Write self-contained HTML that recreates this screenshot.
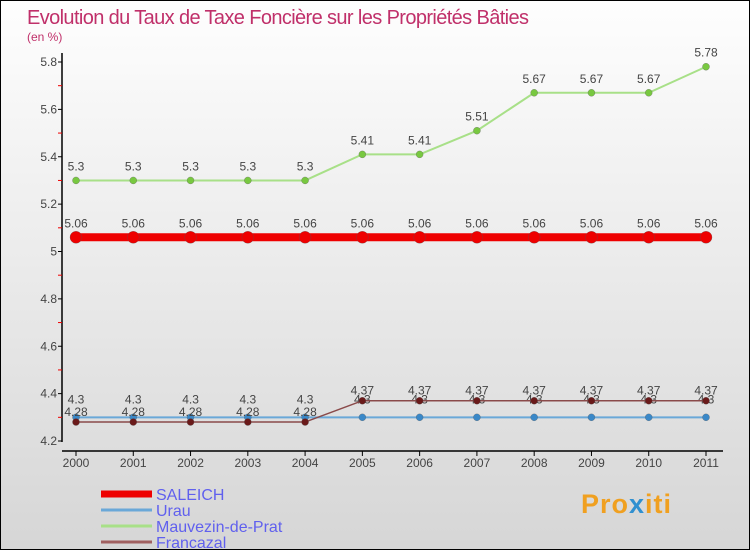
<!DOCTYPE html>
<html><head><meta charset="utf-8"><style>
body{margin:0}
#c{width:750px;height:550px;position:relative;box-sizing:border-box;border:1px solid #000;background:linear-gradient(#fefefe,#d6d6d6);overflow:hidden;font-family:"Liberation Sans",sans-serif}
</style></head><body>
<div id="c">
<svg id="s" width="750" height="550" style="position:absolute;left:0;top:0;font-family:'Liberation Sans',sans-serif">
<text x="26" y="23" font-size="20" fill="#c0306a" textLength="502">Evolution du Taux de Taxe Foncière sur les Propriétés Bâties</text>
<text x="26" y="40" font-size="12" fill="#c0306a">(en %)</text>
</svg>
<div style="position:absolute;left:580px;top:488px;font-size:27px;font-family:'Liberation Sans',sans-serif;font-weight:bold;letter-spacing:1px"><span style="color:#f0a020">Pro</span><span style="color:#3090d0">x</span><span style="color:#f0a020">iti</span></div>
</div>
<script>
const years=[2000,2001,2002,2003,2004,2005,2006,2007,2008,2009,2010,2011];
const saleich=[5.06,5.06,5.06,5.06,5.06,5.06,5.06,5.06,5.06,5.06,5.06,5.06];
const urau=[4.3,4.3,4.3,4.3,4.3,4.3,4.3,4.3,4.3,4.3,4.3,4.3];
const mauvezin=[5.3,5.3,5.3,5.3,5.3,5.41,5.41,5.51,5.67,5.67,5.67,5.78];
const francazal=[4.28,4.28,4.28,4.28,4.28,4.37,4.37,4.37,4.37,4.37,4.37,4.37];
const yTicks=[4.2,4.4,4.6,4.8,5,5.2,5.4,5.6,5.8];
const yTickLabels=["4.2","4.4","4.6","4.8","5","5.2","5.4","5.6","5.8"];
const seriesNames=["SALEICH","Urau","Mauvezin-de-Prat","Francazal"];
const NS="http://www.w3.org/2000/svg";
const s=document.getElementById('s');
function x(i){return 75+i*(705-75)/11;}
function y(v){return 440-(v-4.2)/0.2*47.375;}
function mk(t,a,p){const e=document.createElementNS(NS,t);for(const k in a)e.setAttribute(k,a[k]);(p||s).appendChild(e);return e;}
let ax=mk('line',{x1:61,y1:52,x2:61,y2:441,stroke:'#000','stroke-width':1.5});


let axx=mk('line',{x1:61,y1:450,x2:722,y2:450,stroke:'#000','stroke-width':1.5});


yTicks.forEach((v,i)=>{
 mk('line',{x1:57,y1:y(v),x2:61,y2:y(v),stroke:'#000'});
 if(i<yTicks.length-1)mk('line',{x1:57,y1:y(v+0.1),x2:61,y2:y(v+0.1),stroke:'#e00'});
 const t=mk('text',{x:56,y:y(v)+4,'text-anchor':'end','font-size':12,fill:'#444'});
 t.textContent=yTickLabels[i];
 
 
});
years.forEach((yr,i)=>{
 mk('line',{x1:x(i),y1:450,x2:x(i),y2:455,stroke:'#000'});
 const t=mk('text',{x:x(i),y:466,'text-anchor':'middle','font-size':12,fill:'#444'});
 t.textContent=yr;
 
 
});
function series(data,color,dot,lw,r,name,dy){
 const g=mk('g',{});
 
 
 mk('polyline',{points:data.map((v,i)=>x(i)+','+y(v)).join(' '),fill:'none',stroke:color,'stroke-width':lw},g);
 data.forEach((v,i)=>{
  const c=mk('circle',{cx:x(i),cy:y(v),r:r,fill:dot,stroke:'#555','stroke-width':0.3},g);
  
  
  const t=mk('text',{x:x(i),y:y(v)+dy,'text-anchor':'middle','font-size':12,fill:'#444'},g);
  t.textContent=String(v);
 });
}
series(urau,'#6aa8d8','#3a88c8',2,3.5,'series-urau',-14);
series(francazal,'#8a4a4a','#6a1a1a',1.5,3.5,'series-francazal',-6);
series(mauvezin,'#a8e088','#78c840',2,3.5,'series-mauvezin',-10);
series(saleich,'#e00','#e00',8,6,'series-saleich',-10);
const lc=['#e00','#6aa8d8','#a8e088','#a06060'],lw=[7,3,3,3];
seriesNames.forEach((n,i)=>{
 const yy=493+i*16;
 const l=mk('line',{x1:100,y1:yy,x2:151,y2:yy,stroke:lc[i],'stroke-width':lw[i]});
 
 
 const t=mk('text',{x:155,y:yy+6,'font-size':16,fill:'#6060ee'});
 t.textContent=n;
 
 
});
</script>
</body></html>
